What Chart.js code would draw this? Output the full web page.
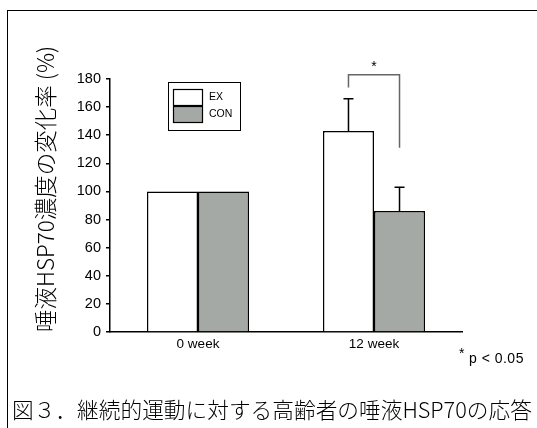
<!DOCTYPE html>
<html>
<head>
<meta charset="utf-8">
<script src="https://cdn.jsdelivr.net/npm/chart.js@4"></script>
<style>
  body { margin: 0; background: #fff; }
  #wrap { position: relative; width: 537px; height: 428px; overflow: hidden; }
  #frame { position: absolute; left: 7px; top: 10px; width: 700px; height: 600px;
           border-left: 1.5px solid #000; border-top: 1.5px solid #000; }
  canvas { position: absolute; left: 0; top: 0; }
  #note { position: absolute; left: 459px; top: 350px; font: 14px "Liberation Sans", Arial, sans-serif;
          letter-spacing: 0.5px; color: #000; }
  #note sup { font-size: 14px; position: relative; top: -5px; vertical-align: baseline; margin-right: 4px; }
  #caption { position: absolute; left: 12px; top: 393px; white-space: nowrap;
             font: 300 21.7px "Noto Sans CJK JP", sans-serif; color: #000; }
</style>
</head>
<body>
<div id="wrap">
  <div id="frame"></div>
  <canvas id="chart" width="537" height="428"></canvas>
  <div id="note"><sup>*</sup>p &lt; 0.05</div>
  <div id="caption">図３．継続的運動に対する高齢者の唾液HSP70の応答</div>
</div>
<script>
// DATA

const categories = ["0 week", "12 week"];
const seriesNames = ["EX", "CON"];
const exValues = [100, 143];
const conValues = [100, 86];
const exErrors = [0, 23];
const conErrors = [0, 17];
const yMin = 0;
const yMax = 180;
const yStep = 20;
// significance bracket on 12 week: top, left end, right end (axis units)
const sigBracket = [183, 174, 131];

const barColors = ["#ffffff", "#a5a9a6"];
const errors = [exErrors, conErrors];

// ERROR BARS, BRACKET, LEGEND

const extras = {
  id: "extras",
  afterDatasetsDraw(chart) {
    const ctx = chart.ctx;
    const y = chart.scales.y;

    ctx.save();
    ctx.strokeStyle = "#000";
    ctx.lineWidth = 1.5;
    chart.data.datasets.forEach((ds, i) => {
      chart.getDatasetMeta(i).data.forEach((bar, j) => {
        const err = errors[i][j];
        if (!err) return;
        const top = y.getPixelForValue(ds.data[j] + err);
        ctx.beginPath();
        ctx.moveTo(bar.x, bar.y);
        ctx.lineTo(bar.x, top);
        ctx.moveTo(bar.x - 5, top);
        ctx.lineTo(bar.x + 5, top);
        ctx.stroke();
      });
    });

    // bracket
    const left = chart.getDatasetMeta(0).data[1].x;
    const right = chart.getDatasetMeta(1).data[1].x;
    const top = y.getPixelForValue(sigBracket[0]);
    ctx.strokeStyle = "#666";
    ctx.beginPath();
    ctx.moveTo(left, y.getPixelForValue(sigBracket[1]));
    ctx.lineTo(left, top);
    ctx.lineTo(right, top);
    ctx.lineTo(right, y.getPixelForValue(sigBracket[2]));
    ctx.stroke();
    ctx.fillStyle = "#000";
    ctx.font = "14px 'Liberation Sans', Arial, sans-serif";
    ctx.textAlign = "center";
    ctx.textBaseline = "middle";
    ctx.fillText("*", (left + right) / 2, top - 8);

    // legend box
    ctx.strokeStyle = "#000";
    ctx.lineWidth = 1;
    ctx.strokeRect(168.5, 82.5, 72, 48);
    ctx.font = "10.5px 'Liberation Sans', Arial, sans-serif";
    ctx.textAlign = "left";
    seriesNames.forEach((name, i) => {
      const ty = 89.5 + i * 17;
      ctx.fillStyle = barColors[i];
      ctx.fillRect(173.5, ty, 29, 16);
      ctx.lineWidth = 1.2;
      ctx.strokeRect(173.5, ty, 29, 16);
      ctx.fillStyle = "#000";
      ctx.fillText(name, 209, ty + 8);
    });
    ctx.restore();
  }
};

new Chart(document.getElementById("chart"), {
  type: "bar",
  data: {
    labels: categories,
    datasets: [
      { label: seriesNames[0], data: exValues, backgroundColor: barColors[0],
        borderColor: "#000", borderWidth: 1.5 },
      { label: seriesNames[1], data: conValues, backgroundColor: barColors[1],
        borderColor: "#000", borderWidth: 1.5 }
    ]
  },
  options: {
    responsive: false,
    animation: false,
    layout: { padding: { left: 0, top: 79, right: 75, bottom: 0 } },
    plugins: { legend: { display: false }, tooltip: { enabled: false } },
    datasets: { bar: { categoryPercentage: 0.58, barPercentage: 1.0 } },
    scales: {
      x: {
        grid: { display: false },
        border: { display: true, color: "#000", width: 1.5 },
        ticks: { color: "#000", padding: -4,
                  font: { size: 13.5, family: "'Liberation Sans', Arial, sans-serif" } },
        afterFit(scale) { scale.height = 96; }
      },
      y: {
        min: yMin,
        max: yMax,
        grid: { drawOnChartArea: false, drawTicks: true, tickLength: 4, color: "#000", lineWidth: 1.5 },
        border: { display: true, color: "#000", width: 1.5 },
        ticks: { stepSize: yStep, color: "#000", padding: 5,
                  font: { size: 14.5, family: "'Liberation Sans', Arial, sans-serif" } },
        title: {
          display: true,
          text: "唾液HSP70濃度の変化率 (%)",
          align: "start",
          color: "#000",
          padding: { top: 32, bottom: 0 },
          font: { size: 22.5, weight: 300, family: "'Noto Sans CJK JP', sans-serif" }
        },
        afterFit(scale) { scale.width = 110; }
      }
    }
  },
  plugins: [extras]
});
</script>
</body>
</html>
